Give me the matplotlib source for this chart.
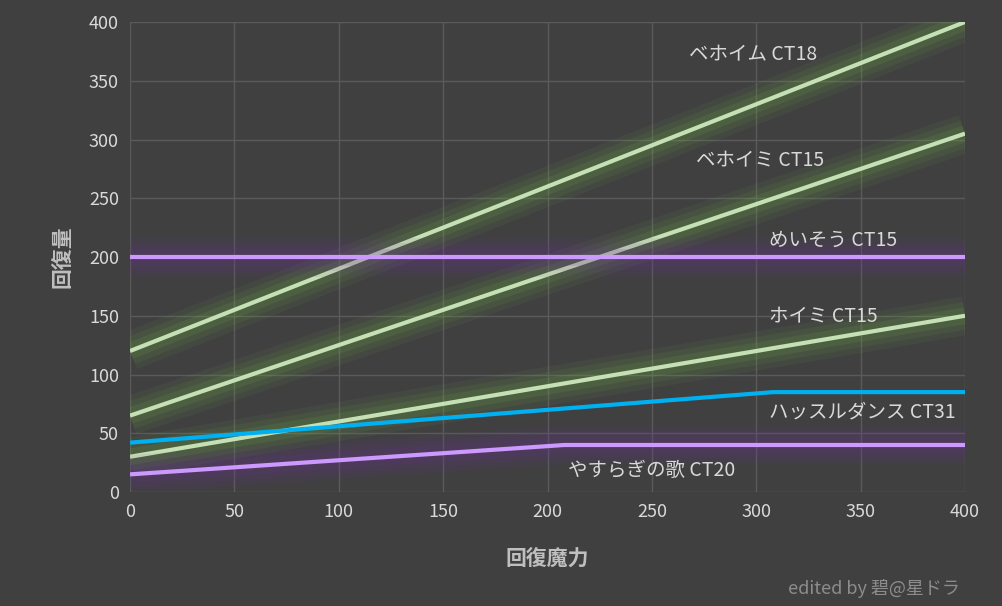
import matplotlib.pyplot as plt

plt.rcParams['font.family'] = ['Noto Sans CJK JP']

names  = ['ベホイム CT18', 'ベホイミ CT15', 'めいそう CT15', 'ホイミ CT15', 'ハッスルダンス CT31', 'やすらぎの歌 CT20']
xs     = [[0, 400], [0, 400], [0, 400], [0, 400], [0, 308, 400], [0, 208, 400]]
ys     = [[120, 400], [65, 305], [200, 200], [30, 150], [42, 85, 85], [15, 40, 40]]
colors = ['#c5e0b4', '#c5e0b4', '#cc99ff', '#c5e0b4', '#00b0f0', '#cc99ff']
glows  = ['#70ad47', '#70ad47', '#7030a0', '#70ad47', None, '#7030a0']
label_pos = [(268, 372), (271, 283), (306, 214), (306, 150), (306, 68), (210, 18)]

bg = '#404040'
fig = plt.figure(figsize=(10.03, 6.06), dpi=100, facecolor=bg)
ax = fig.add_axes([130/1003, 1-492/606, 835/1003, 470/606], facecolor=bg)

for x, y, c, g in zip(xs, ys, colors, glows):
    if g:
        for w, a in [(28, 0.08), (20, 0.10), (12, 0.15)]:
            ax.plot(x, y, color=g, lw=w, alpha=a, solid_capstyle='butt')
    ax.plot(x, y, color=c, lw=3, solid_capstyle='butt')

for n, (lx, ly) in zip(names, label_pos):
    ax.text(lx, ly, n, color='#d9d9d9', fontsize=14, va='center')

ax.set_xlim(0, 400)
ax.set_ylim(0, 400)
ax.set_xticks(range(0, 401, 50))
ax.set_yticks(range(0, 401, 50))
ax.grid(color='#5a5a5a', lw=1)
for s in ax.spines.values():
    s.set_visible(False)
ax.tick_params(colors='#d9d9d9', labelsize=13, length=0, pad=8)
ax.set_xlabel('回復魔力', color='#bfbfbf', fontsize=15, fontweight='bold', labelpad=20)
ax.set_ylabel('回復量', color='#bfbfbf', fontsize=15, fontweight='bold', labelpad=12)
fig.text(960/1003, 1-588/606, 'edited by 碧@星ドラ', color='#8c8c8c', fontsize=13,
         style='italic', ha='right', va='center')

fig.savefig('out.png', dpi=100, facecolor=bg)
